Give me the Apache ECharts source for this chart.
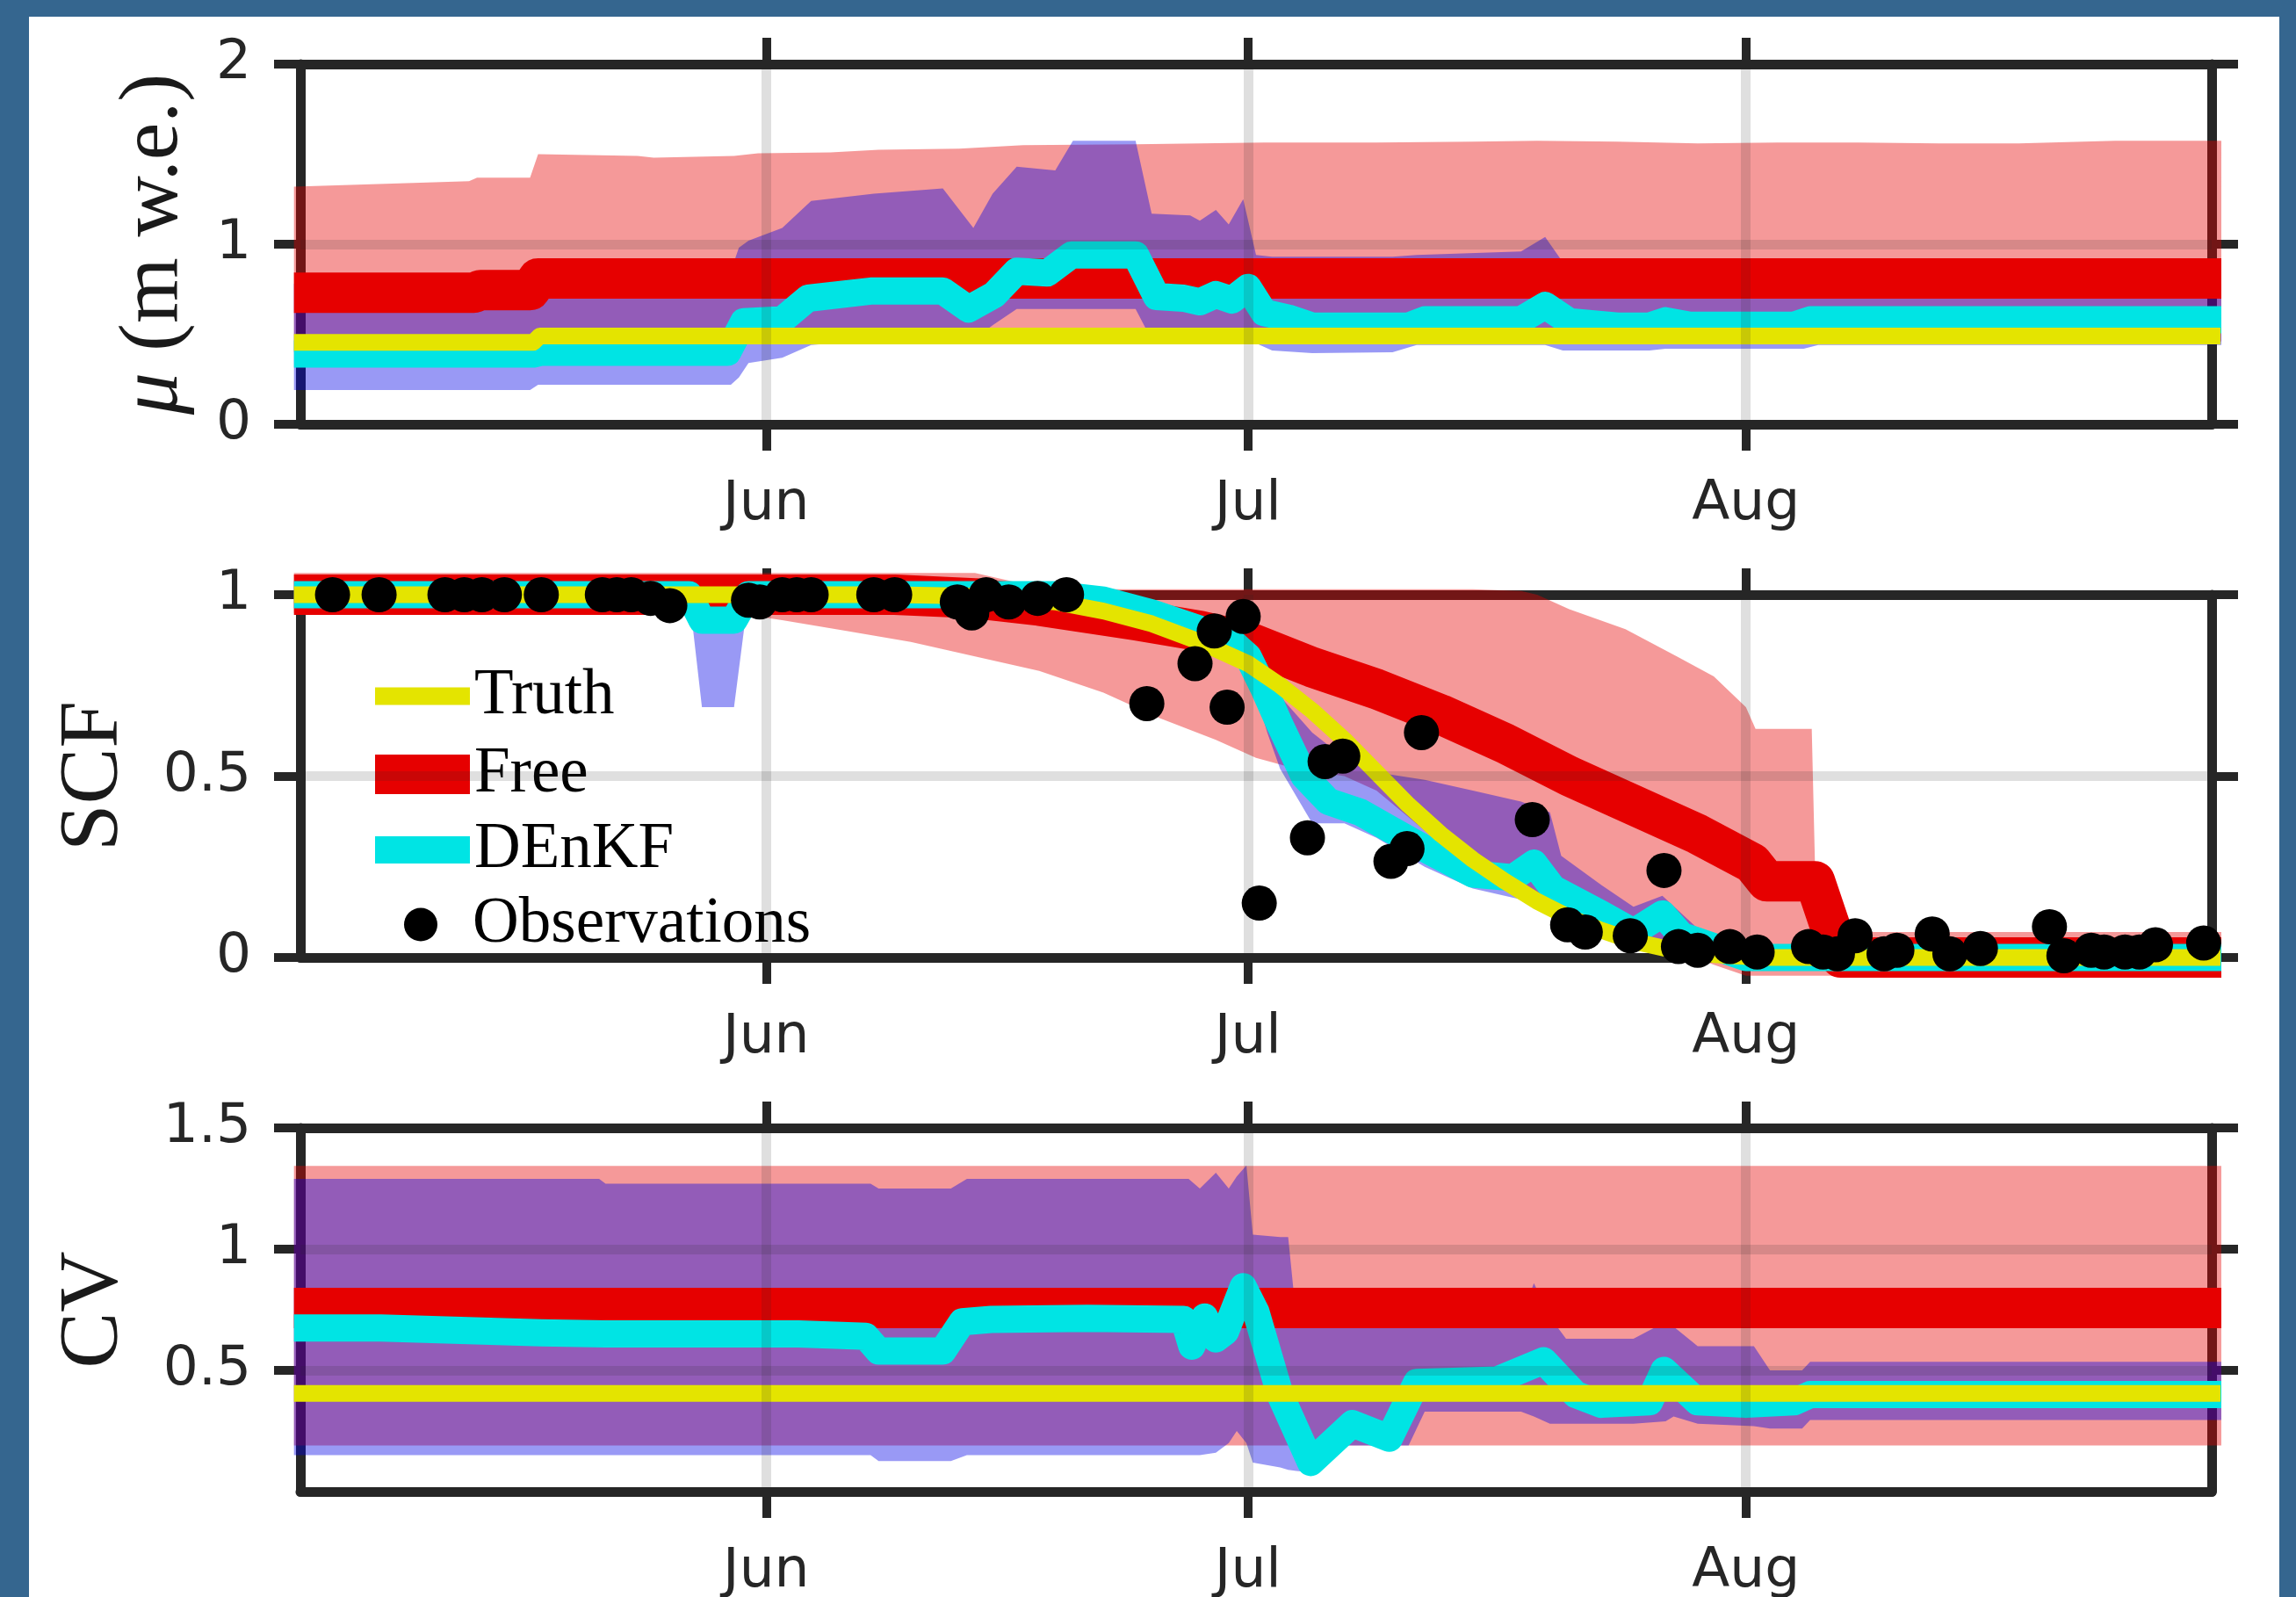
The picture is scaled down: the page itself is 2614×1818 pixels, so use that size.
<!DOCTYPE html>
<html>
<head>
<meta charset="utf-8">
<script src="https://cdn.jsdelivr.net/npm/echarts@6.0.0/dist/echarts.min.js"></script>
<style>
html,body{margin:0;padding:0;width:2614px;height:1818px;overflow:hidden;background:#35668f;}
#c{position:absolute;left:33px;top:19px;width:2562px;height:1799px;background:#ffffff;}
</style>
</head>
<body>
<div id="c"></div>
<script>
// ---------- x axis (day of year): May 3 .. Aug 30 ----------
const xMin = 123, xMax = 242;
const monthTicks = [152, 182, 213];
const monthLabels = ['Jun', 'Jul', 'Aug'];

// ---------- Panel 1: mu (m w.e.) ----------
const muFreeBandDays = [122.6,133.5,134,137.3,137.8,144,145,150,151.5,156,159,164,168,175,183,190,196,200,205,210,215,220,225,230,236,242.6];
const muFreeUpper = [1.32,1.35,1.37,1.37,1.50,1.49,1.48,1.49,1.505,1.51,1.525,1.53,1.55,1.555,1.565,1.565,1.57,1.575,1.57,1.56,1.565,1.565,1.56,1.56,1.575,1.575];
const muFreeLower = [0.40,0.40,0.40,0.40,0.46,0.46,0.46,0.46,0.46,0.46,0.46,0.46,0.46,0.46,0.46,0.46,0.46,0.46,0.46,0.46,0.46,0.46,0.46,0.46,0.46,0.46];

const muDenkfBandDays = [122.6,137.3,137.8,149.8,150.3,150.9,153,154.8,158.7,163,164.9,166.1,167.6,170,171.1,175,176,178.4,179,180,180.8,181.7,182.5,183.5,186,191,192.5,199,200.5,201.6,205,207,208,216.6,217.5,242.6];
const muDenkfUpper = [0.78,0.78,0.82,0.85,0.98,1.02,1.09,1.24,1.28,1.31,1.09,1.28,1.43,1.41,1.575,1.575,1.17,1.16,1.13,1.19,1.11,1.25,0.94,0.93,0.93,0.93,0.94,0.96,1.04,0.90,0.85,0.84,0.82,0.80,0.78,0.78];
const muDenkfLower = [0.19,0.19,0.22,0.22,0.26,0.34,0.37,0.44,0.47,0.47,0.47,0.55,0.64,0.64,0.64,0.64,0.47,0.47,0.47,0.47,0.47,0.46,0.45,0.41,0.395,0.40,0.44,0.44,0.44,0.41,0.41,0.41,0.42,0.42,0.44,0.44];

const muFreeDays = [122.6,133.8,134.2,137.3,137.8,242.6];
const muFree = [0.73,0.73,0.745,0.745,0.81,0.81];

const muDenkfDays = [122.6,137.5,138,149.6,150.6,153,154.6,158.5,163,164.6,166.2,167.6,169.5,171,175,176.3,178,179,180,181,182,183,184.5,186,192,193,199,200.5,202,205,207,208,209.5,216,217,242.6];
const muDenkf = [0.39,0.39,0.40,0.40,0.57,0.58,0.70,0.74,0.74,0.64,0.72,0.85,0.84,0.94,0.94,0.71,0.70,0.68,0.72,0.69,0.76,0.62,0.59,0.545,0.545,0.58,0.58,0.66,0.57,0.545,0.545,0.575,0.55,0.55,0.58,0.58];

const muTruthDays = [122.6,137.5,137.9,242.6];
const muTruth = [0.455,0.455,0.49,0.49];

// ---------- Panel 2: SCF ----------
const scfFreeBandDays = [122.6,150,153,157,161,165,169,173,176.5,180,182.5,185,188,190,193,196,199,200,202,205.5,208.7,211,213,213.6,217.1,217.4,242.6];
const scfFreeUpper = [1.06,1.06,1.06,1.06,1.06,1.06,1.02,1.015,1.015,1.015,1.015,1.015,1.015,1.015,1.015,1.015,1.01,1.0,0.96,0.905,0.83,0.775,0.69,0.63,0.63,0.07,0.07];
const scfFreeLower = [0.95,0.95,0.93,0.90,0.87,0.83,0.79,0.73,0.66,0.60,0.55,0.52,0.50,0.46,0.35,0.25,0.17,0.15,0.10,0.05,0.02,-0.02,-0.05,-0.05,-0.05,-0.05,-0.05];

const scfDenkfBandDays = [122.6,147.2,148.0,150.0,150.9,170,173,176,179,182,183.2,184,186,188,190,193,196,199,200.8,201.5,204,206,207.8,210,213,242.6];
const scfDenkfUpper = [1.0,1.0,1.0,1.0,1.0,1.0,0.99,0.96,0.92,0.86,0.79,0.72,0.62,0.55,0.51,0.49,0.46,0.43,0.40,0.28,0.20,0.14,0.17,0.08,0.0,0.0];
const scfDenkfLower = [1.0,1.0,0.69,0.69,1.0,1.0,0.97,0.92,0.86,0.80,0.62,0.52,0.37,0.37,0.33,0.25,0.19,0.16,0.13,0.12,0.08,0.04,0.04,0.0,0.0,0.0];

const scfFreeDays = [122.6,160,165,169,172,175,179,182,186,190,194,198,202,206,210,213.4,214.3,217.3,218.9,242.6];
const scfFree = [1.0,1.0,0.99,0.97,0.95,0.93,0.90,0.87,0.80,0.74,0.67,0.59,0.50,0.42,0.34,0.26,0.21,0.21,0.0,0.0];

const scfDenkfDays = [122.6,147.2,148,150,150.9,170,173,176,179,181,182,183,184,185.5,187,189,191,193,196,198.5,199.8,201,204,206,207.8,209,211,213,242.6];
const scfDenkf = [1.0,1.0,0.93,0.93,1.0,1.0,0.985,0.95,0.905,0.87,0.83,0.74,0.64,0.50,0.43,0.40,0.35,0.30,0.23,0.22,0.26,0.19,0.12,0.07,0.12,0.06,0.03,0.0,0.0];

const scfTruthDays = [122.6,160,166,170,173,176,179,182,184,186,188,190,192,194,196,198,200,202,204,206,208,211,214,242.6];
const scfTruth = [1.0,1.0,0.995,0.98,0.955,0.92,0.87,0.81,0.75,0.68,0.60,0.51,0.42,0.34,0.27,0.21,0.155,0.11,0.075,0.045,0.025,0.008,0.0,0.0];

const obsDays = [125.0,127.9,132.0,133.2,134.3,135.7,138.0,141.8,142.7,143.6,144.8,146.0,150.9,151.6,153.0,153.9,154.8,158.7,160.0,163.9,164.8,165.7,167.1,168.9,170.7,175.7,178.7,179.9,180.7,181.7,182.7,185.7,186.8,187.9,190.9,191.9,192.8,199.7,201.9,203.0,205.8,207.9,208.8,210.0,212.0,213.7,216.9,217.8,218.7,219.8,221.6,222.4,224.6,225.7,227.6,231.9,232.8,234.5,235.3,236.6,237.5,238.5,241.5];
const obsScf = [1.0,1.0,1.0,1.0,1.0,1.0,1.0,1.0,1.0,1.0,0.99,0.97,0.985,0.98,1.0,1.0,1.0,1.0,1.0,0.98,0.95,1.0,0.98,0.99,1.0,0.70,0.81,0.90,0.69,0.94,0.15,0.33,0.54,0.555,0.265,0.30,0.62,0.38,0.09,0.07,0.06,0.24,0.03,0.02,0.03,0.015,0.03,0.015,0.01,0.06,0.01,0.02,0.065,0.01,0.025,0.085,0.005,0.02,0.015,0.015,0.015,0.035,0.04];

// ---------- Panel 3: CV ----------
const cvFreeBandDays = [122.6,242.6];
const cvFreeUpper = [1.343,1.343];
const cvFreeLower = [0.19,0.19];

const cvDenkfBandDays = [122.6,141.6,142,158.5,159,163.5,164.5,178.3,179,180,180.8,181.3,181.9,182.3,184,184.5,185,185.9,187,192,193,199,199.8,200.8,201.8,206,208,208.5,210,213.5,214.5,216.5,217,242.6];
const cvDenkfUpper = [1.29,1.29,1.27,1.27,1.25,1.25,1.29,1.29,1.25,1.315,1.25,1.30,1.345,1.06,1.05,1.05,0.72,0.72,0.72,0.72,0.72,0.72,0.86,0.72,0.63,0.63,0.70,0.68,0.60,0.60,0.50,0.50,0.535,0.535];
const cvDenkfLower = [0.15,0.15,0.15,0.15,0.126,0.126,0.15,0.15,0.15,0.16,0.20,0.25,0.20,0.12,0.10,0.09,0.085,0.08,0.19,0.19,0.33,0.33,0.31,0.28,0.28,0.28,0.29,0.31,0.28,0.27,0.26,0.26,0.295,0.295];

const cvFreeDays = [122.6,242.6];
const cvFree = [0.757,0.757];
const cvTruthDays = [122.6,242.6];
const cvTruth = [0.405,0.405];

const cvDenkfDays = [122.6,128,133,138,142,146,150,154,158.2,159,163,164.2,166,172,178,178.5,179.3,180,180.6,181.7,182.5,184,185.9,188.5,190.8,192.5,197.5,200.4,202.4,204,207,207.9,210,213,216,217,242.6];
const cvDenkf = [0.675,0.675,0.665,0.655,0.65,0.65,0.65,0.65,0.64,0.58,0.58,0.70,0.71,0.715,0.71,0.60,0.72,0.63,0.66,0.845,0.74,0.40,0.12,0.28,0.22,0.45,0.46,0.54,0.40,0.36,0.37,0.50,0.37,0.36,0.37,0.40,0.40];

// ---------- axes tick values ----------
const muTicks = [0, 1, 2];
const scfTicks = [0, 0.5, 1];
const cvTicks = [0.5, 1, 1.5];

// ---------- styling ----------
const C = {
  freeBand: 'rgba(230,0,0,0.4)',
  denkfBand: 'rgba(0,0,230,0.4)',
  free: 'rgb(230,0,0)',
  denkf: 'rgb(0,228,228)',
  truth: 'rgb(228,228,0)',
  obs: '#000000',
  axis: '#262626',
  grid: 'rgba(38,38,38,0.15)'
};
const W = { free: 46, denkf: 31, truth: 19 };
const OX = 33, OY = 19;
const boxes = [{top: 73, h: 410}, {top: 677, h: 413}, {top: 1284, h: 414}];

function zip(a, b) { return a.map((d, i) => [d, b[i]]); }

const series = [];
// ensemble range drawn as one filled polygon through the axis scales
function addBand(p, key, days, up, lo, color) {
  series.push({
    type: 'custom', name: key, xAxisIndex: 2 * p, yAxisIndex: 2 * p,
    silent: true, clip: false, z: 2,
    data: days.map((d, i) => [d, up[i], lo[i]]),
    encode: { x: 0, y: [1, 2] },
    renderItem: function (params, api) {
      if (params.dataIndexInside !== 0) return null;
      const pts = [];
      for (let i = 0; i < days.length; i++) pts.push(api.coord([days[i], up[i]]));
      for (let i = days.length - 1; i >= 0; i--) pts.push(api.coord([days[i], lo[i]]));
      return { type: 'polygon', shape: { points: pts }, style: { fill: color, stroke: null }, silent: true };
    }
  });
}
function addLine(p, name, days, vals, color, width, gridVals) {
  const s = {
    type: 'line', name: name, xAxisIndex: 2 * p, yAxisIndex: 2 * p,
    data: zip(days, vals), symbol: 'none', showSymbol: false, silent: true, clip: false, z: 2,
    color: color, itemStyle: { color: color },
    lineStyle: { color: color, width: width, join: 'round', cap: 'butt' },
    emphasis: { disabled: true }
  };
  if (gridVals) {
    s.markLine = {
      silent: true, symbol: ['none', 'none'], animation: false, label: { show: false },
      emphasis: { disabled: true },
      lineStyle: { color: C.grid, width: 11, type: 'solid' },
      data: monthTicks.map(v => ({ xAxis: v })).concat(gridVals.map(v => ({ yAxis: v })))
    };
  }
  series.push(s);
}

// panel 1
addBand(0, 'muFreeRange', muFreeBandDays, muFreeUpper, muFreeLower, C.freeBand);
addBand(0, 'muDenkfRange', muDenkfBandDays, muDenkfUpper, muDenkfLower, C.denkfBand);
addLine(0, 'Free', muFreeDays, muFree, C.free, W.free);
addLine(0, 'DEnKF', muDenkfDays, muDenkf, C.denkf, W.denkf);
addLine(0, 'Truth', muTruthDays, muTruth, C.truth, W.truth, [1]);
// panel 2
addBand(1, 'scfFreeRange', scfFreeBandDays, scfFreeUpper, scfFreeLower, C.freeBand);
addBand(1, 'scfDenkfRange', scfDenkfBandDays, scfDenkfUpper, scfDenkfLower, C.denkfBand);
addLine(1, 'Free', scfFreeDays, scfFree, C.free, W.free);
addLine(1, 'DEnKF', scfDenkfDays, scfDenkf, C.denkf, W.denkf);
addLine(1, 'Truth', scfTruthDays, scfTruth, C.truth, W.truth, [0.5]);
series.push({
  type: 'scatter', name: 'Observations', xAxisIndex: 2, yAxisIndex: 2,
  data: zip(obsDays, obsScf), symbol: 'circle', symbolSize: 40, clip: false, z: 6,
  color: C.obs, itemStyle: { color: C.obs, opacity: 1 }, silent: true, emphasis: { disabled: true }
});
// panel 3
addBand(2, 'cvFreeRange', cvFreeBandDays, cvFreeUpper, cvFreeLower, C.freeBand);
addBand(2, 'cvDenkfRange', cvDenkfBandDays, cvDenkfUpper, cvDenkfLower, C.denkfBand);
addLine(2, 'Free', cvFreeDays, cvFree, C.free, W.free);
addLine(2, 'DEnKF', cvDenkfDays, cvDenkf, C.denkf, W.denkf);
addLine(2, 'Truth', cvTruthDays, cvTruth, C.truth, W.truth, [0.5, 1]);

// ---------- axes ----------
const tickFont = { fontSize: 63, fontFamily: 'DejaVu Sans', color: C.axis };
const axisLineStyle = { show: true, onZero: false, lineStyle: { color: C.axis, width: 11 } };
const tickStyle = { color: C.axis, width: 10 };

const xAxis = [], yAxis = [];
for (let p = 0; p < 3; p++) {
  const xb = {
    gridIndex: p, type: 'value', min: xMin, max: xMax, z: 1,
    axisLine: axisLineStyle,
    axisTick: { show: true, inside: false, length: 30, customValues: monthTicks, lineStyle: tickStyle },
    splitLine: { show: false }
  };
  xAxis.push(Object.assign({}, xb, {
    position: 'bottom',
    axisLabel: Object.assign({ show: true, customValues: monthTicks, margin: 60,
      formatter: v => { const i = monthTicks.indexOf(v); return i >= 0 ? monthLabels[i] : ''; } }, tickFont)
  }));
  xAxis.push(Object.assign({}, xb, { position: 'top', axisLabel: { show: false } }));
}
const ySpecs = [
  { min: 0, max: 2, interval: 1, ticks: muTicks, name: '{i|μ} (m w.e.)', gap: 118 },
  { min: 0, max: 1, interval: 0.5, ticks: scfTicks, name: 'SCF', gap: 186 },
  { min: 0, max: 1.5, interval: 0.5, ticks: cvTicks, name: 'CV', gap: 186 }
];
ySpecs.forEach((s, p) => {
  const yb = {
    gridIndex: p, type: 'value', min: s.min, max: s.max, interval: s.interval, z: 1,
    axisLine: axisLineStyle,
    axisTick: { show: true, inside: false, length: 30, customValues: s.ticks, lineStyle: tickStyle },
    splitLine: { show: false }
  };
  yAxis.push(Object.assign({}, yb, {
    position: 'left',
    axisLabel: Object.assign({ show: true, customValues: s.ticks, margin: 56,
      formatter: v => (s.ticks.indexOf(v) >= 0 ? String(v) : '') }, tickFont),
    name: s.name, nameLocation: 'middle', nameGap: s.gap,
    nameTextStyle: {
      fontFamily: 'Liberation Serif', fontSize: 96, color: '#1a1a1a',
      rich: { i: { fontFamily: 'Liberation Serif', fontSize: 96, fontStyle: 'italic', color: '#1a1a1a' } }
    }
  }));
  yAxis.push(Object.assign({}, yb, { position: 'right', axisLabel: { show: false } }));
});

// ---------- legends (inside SCF panel) ----------
const legendItems = [
  { name: 'Truth', icon: 'rect', h: 20, cy: 793, x: 427 },
  { name: 'Free', icon: 'rect', h: 45, cy: 882, x: 427 },
  { name: 'DEnKF', icon: 'rect', h: 31, cy: 968, x: 427 },
  { name: 'Observations', icon: 'circle', h: 38, cy: 1053, x: 460 }
];
const legendTextH = 74;
const legend = legendItems.map(it => ({
  data: [it.name], left: it.x - OX, top: it.cy - OY - Math.max(legendTextH, it.h) / 2, padding: 0,
  orient: 'vertical', icon: it.icon, itemWidth: 108, itemHeight: it.h,
  selectedMode: false, itemStyle: { borderWidth: 0 },
  textStyle: { fontFamily: 'Liberation Serif', fontSize: 73, color: '#000000' }
}));

const option = {
  animation: false,
  backgroundColor: '#ffffff',
  grid: boxes.map(b => ({ left: 342 - OX, top: b.top - OY, width: 2176, height: b.h, containLabel: false, outerBoundsMode: 'none' })),
  xAxis: xAxis,
  yAxis: yAxis,
  legend: legend,
  series: series
};

const chart = echarts.init(document.getElementById('c'), null, { renderer: 'canvas' });
chart.setOption(option);
</script>
</body>
</html>
